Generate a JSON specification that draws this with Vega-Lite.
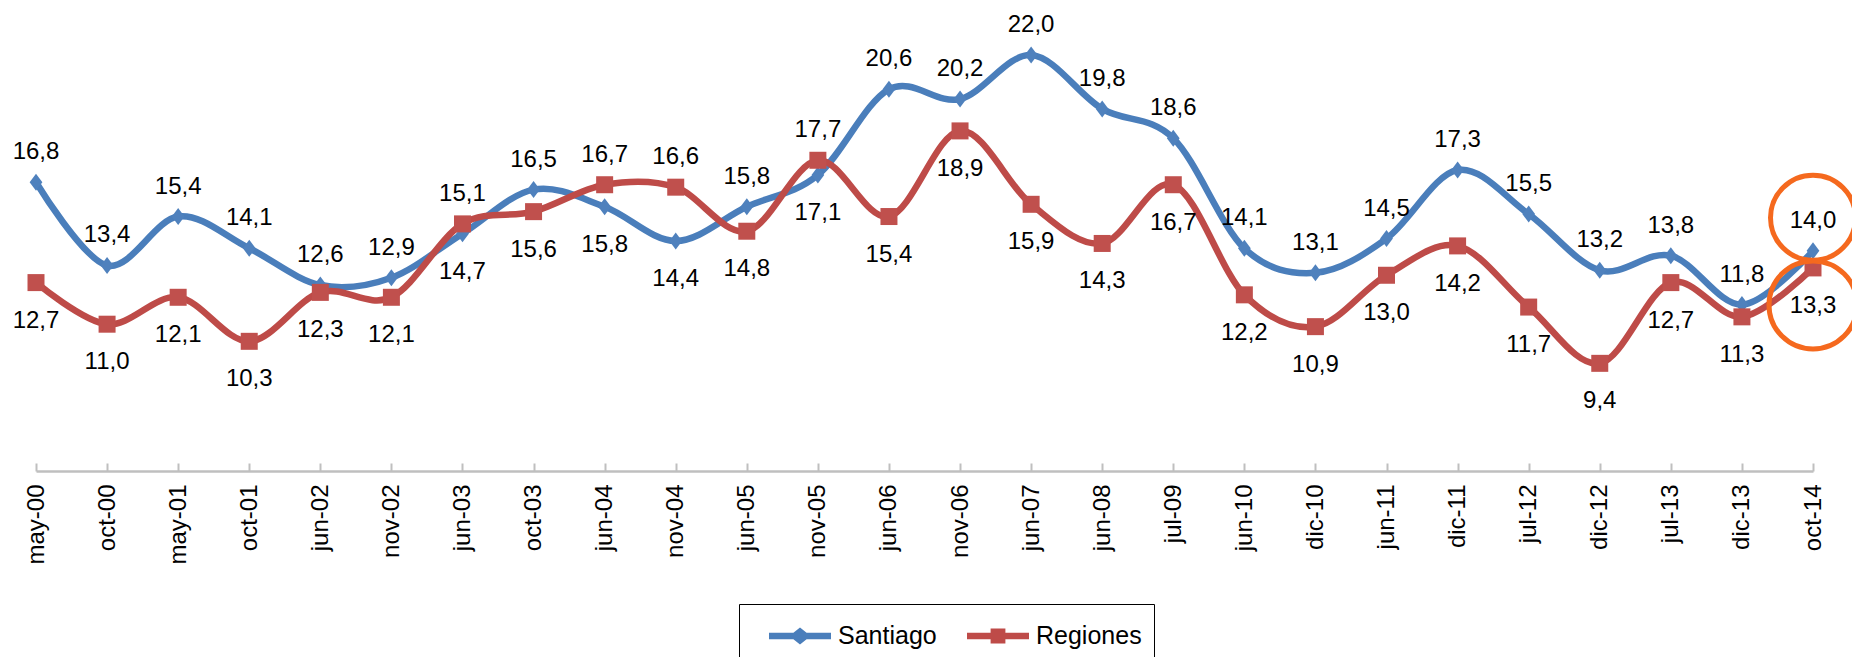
{
  "$schema": "https://vega.github.io/schema/vega-lite/v6.json",
  "autosize": "none",
  "width": 1777,
  "height": 471,
  "padding": {"left": 36, "top": 0, "right": 39, "bottom": 186},
  "background": "white",
  "config": {"view": {"stroke": null}, "font": "Liberation Sans"},
  "data": {"values": [
    {"date": "may-00", "series": "Santiago", "value": 16.8},
    {"date": "oct-00", "series": "Santiago", "value": 13.4},
    {"date": "may-01", "series": "Santiago", "value": 15.4},
    {"date": "oct-01", "series": "Santiago", "value": 14.1},
    {"date": "jun-02", "series": "Santiago", "value": 12.6},
    {"date": "nov-02", "series": "Santiago", "value": 12.9},
    {"date": "jun-03", "series": "Santiago", "value": 14.7},
    {"date": "oct-03", "series": "Santiago", "value": 16.5},
    {"date": "jun-04", "series": "Santiago", "value": 15.8},
    {"date": "nov-04", "series": "Santiago", "value": 14.4},
    {"date": "jun-05", "series": "Santiago", "value": 15.8},
    {"date": "nov-05", "series": "Santiago", "value": 17.1},
    {"date": "jun-06", "series": "Santiago", "value": 20.6},
    {"date": "nov-06", "series": "Santiago", "value": 20.2},
    {"date": "jun-07", "series": "Santiago", "value": 22.0},
    {"date": "jun-08", "series": "Santiago", "value": 19.8},
    {"date": "jul-09", "series": "Santiago", "value": 18.6},
    {"date": "jun-10", "series": "Santiago", "value": 14.1},
    {"date": "dic-10", "series": "Santiago", "value": 13.1},
    {"date": "jun-11", "series": "Santiago", "value": 14.5},
    {"date": "dic-11", "series": "Santiago", "value": 17.3},
    {"date": "jul-12", "series": "Santiago", "value": 15.5},
    {"date": "dic-12", "series": "Santiago", "value": 13.2},
    {"date": "jul-13", "series": "Santiago", "value": 13.8},
    {"date": "dic-13", "series": "Santiago", "value": 11.8},
    {"date": "oct-14", "series": "Santiago", "value": 14.0},
    {"date": "may-00", "series": "Regiones", "value": 12.7},
    {"date": "oct-00", "series": "Regiones", "value": 11.0},
    {"date": "may-01", "series": "Regiones", "value": 12.1},
    {"date": "oct-01", "series": "Regiones", "value": 10.3},
    {"date": "jun-02", "series": "Regiones", "value": 12.3},
    {"date": "nov-02", "series": "Regiones", "value": 12.1},
    {"date": "jun-03", "series": "Regiones", "value": 15.1},
    {"date": "oct-03", "series": "Regiones", "value": 15.6},
    {"date": "jun-04", "series": "Regiones", "value": 16.7},
    {"date": "nov-04", "series": "Regiones", "value": 16.6},
    {"date": "jun-05", "series": "Regiones", "value": 14.8},
    {"date": "nov-05", "series": "Regiones", "value": 17.7},
    {"date": "jun-06", "series": "Regiones", "value": 15.4},
    {"date": "nov-06", "series": "Regiones", "value": 18.9},
    {"date": "jun-07", "series": "Regiones", "value": 15.9},
    {"date": "jun-08", "series": "Regiones", "value": 14.3},
    {"date": "jul-09", "series": "Regiones", "value": 16.7},
    {"date": "jun-10", "series": "Regiones", "value": 12.2},
    {"date": "dic-10", "series": "Regiones", "value": 10.9},
    {"date": "jun-11", "series": "Regiones", "value": 13.0},
    {"date": "dic-11", "series": "Regiones", "value": 14.2},
    {"date": "jul-12", "series": "Regiones", "value": 11.7},
    {"date": "dic-12", "series": "Regiones", "value": 9.4},
    {"date": "jul-13", "series": "Regiones", "value": 12.7},
    {"date": "dic-13", "series": "Regiones", "value": 11.3},
    {"date": "oct-14", "series": "Regiones", "value": 13.3}
  ]},
  "transform": [
    {"joinaggregate": [{"op": "max", "field": "value", "as": "maxv"}], "groupby": ["date"]},
    {"calculate": "replace(format(datum.value, '.1f'), '.', ',')", "as": "label"}
  ],
  "encoding": {
    "x": {
      "field": "date", "type": "ordinal", "sort": null,
      "scale": {"type": "point", "padding": 0},
      "axis": {
        "title": null, "labelAngle": -90, "labelFontSize": 24, "labelColor": "#000000",
        "labelFont": "Liberation Sans", "domainColor": "#BFBFBF", "domainWidth": 2.5,
        "tickColor": "#BFBFBF", "tickWidth": 2, "tickSize": -8, "labelPadding": 21, "grid": false
      }
    },
    "y": {
      "field": "value", "type": "quantitative",
      "scale": {"domain": [5, 24.25], "nice": false, "zero": false},
      "axis": null
    }
  },
  "resolve": {"scale": {"shape": "independent", "color": "independent"}},
  "layer": [
    {
      "mark": {"type": "line", "interpolate": "cardinal", "tension": 0, "strokeWidth": 6.5, "strokeCap": "round"},
      "encoding": {
        "color": {
          "field": "series", "type": "nominal",
          "scale": {"domain": ["Santiago", "Regiones"], "range": ["#4A7EBB", "#BE4B48"]},
          "legend": null
        }
      }
    },
    {
      "mark": {"type": "point", "filled": true, "opacity": 1, "size": 289},
      "encoding": {
        "color": {
          "field": "series", "type": "nominal", "legend": null,
          "scale": {"domain": ["Santiago", "Regiones"], "range": ["#4F81BD", "#C0504D"]}
        },
        "shape": {
          "field": "series", "type": "nominal", "legend": null,
          "scale": {"domain": ["Santiago", "Regiones"], "range": ["M0,-1L0.75,0L0,1L-0.75,0Z", "square"]}
        }
      }
    },
    {
      "transform": [{"filter": "datum.value == datum.maxv"}],
      "mark": {"type": "text", "fontSize": 24, "font": "Liberation Sans", "color": "#000000", "baseline": "middle", "yOffset": -30},
      "encoding": {"text": {"field": "label"}}
    },
    {
      "transform": [{"filter": "datum.value < datum.maxv"}],
      "mark": {"type": "text", "fontSize": 24, "font": "Liberation Sans", "color": "#000000", "baseline": "middle", "yOffset": 38},
      "encoding": {"text": {"field": "label"}}
    },
    {
      "transform": [{"filter": "datum.date == 'oct-14' && datum.value == datum.maxv"}],
      "mark": {"type": "point", "shape": "circle", "filled": false, "stroke": "#F5691E", "strokeWidth": 5, "size": 7225, "opacity": 1, "yOffset": -33, "clip": false},
      "encoding": {}
    },
    {
      "transform": [{"filter": "datum.date == 'oct-14' && datum.value < datum.maxv"}],
      "mark": {"type": "point", "shape": "circle", "filled": false, "stroke": "#F5691E", "strokeWidth": 5, "size": 7744, "opacity": 1, "yOffset": 37, "clip": false},
      "encoding": {}
    },
    {
      "transform": [{"filter": "false"}],
      "mark": {"type": "point", "filled": true, "opacity": 1},
      "encoding": {
        "color": {
          "field": "series", "type": "nominal",
          "scale": {"domain": ["Santiago", "Regiones"], "range": ["#4A7EBB", "#BE4B48"]},
          "legend": {
            "title": null, "orient": "none", "legendX": 703, "legendY": 604, "direction": "horizontal",
            "symbolSize": 1600, "labelFontSize": 25, "labelFont": "Liberation Sans", "labelColor": "#000000",
            "strokeColor": "#000000", "fillColor": "#FFFFFF", "padding": 12,
            "symbolOffset": 29, "labelOffset": 18, "columnPadding": 12, "symbolStrokeWidth": 0, "symbolOpacity": 1
          }
        },
        "shape": {
          "field": "series", "type": "nominal",
          "scale": {"domain": ["Santiago", "Regiones"], "range": [
            "M-1.55,-0.16L-0.33,-0.16L0,-0.43L0.33,-0.16L1.55,-0.16L1.55,0.16L0.33,0.16L0,0.43L-0.33,0.16L-1.55,0.16Z",
            "M-1.55,-0.16L-0.37,-0.16L-0.37,-0.37L0.37,-0.37L0.37,-0.16L1.55,-0.16L1.55,0.16L0.37,0.16L0.37,0.37L-0.37,0.37L-0.37,0.16L-1.55,0.16Z"
          ]},
          "legend": {
            "title": null, "orient": "none", "legendX": 703, "legendY": 604, "direction": "horizontal",
            "symbolSize": 1600, "labelFontSize": 25, "labelFont": "Liberation Sans", "labelColor": "#000000",
            "strokeColor": "#000000", "fillColor": "#FFFFFF", "padding": 12,
            "symbolOffset": 29, "labelOffset": 18, "columnPadding": 12, "symbolStrokeWidth": 0, "symbolOpacity": 1
          }
        }
      }
    }
  ]
}
